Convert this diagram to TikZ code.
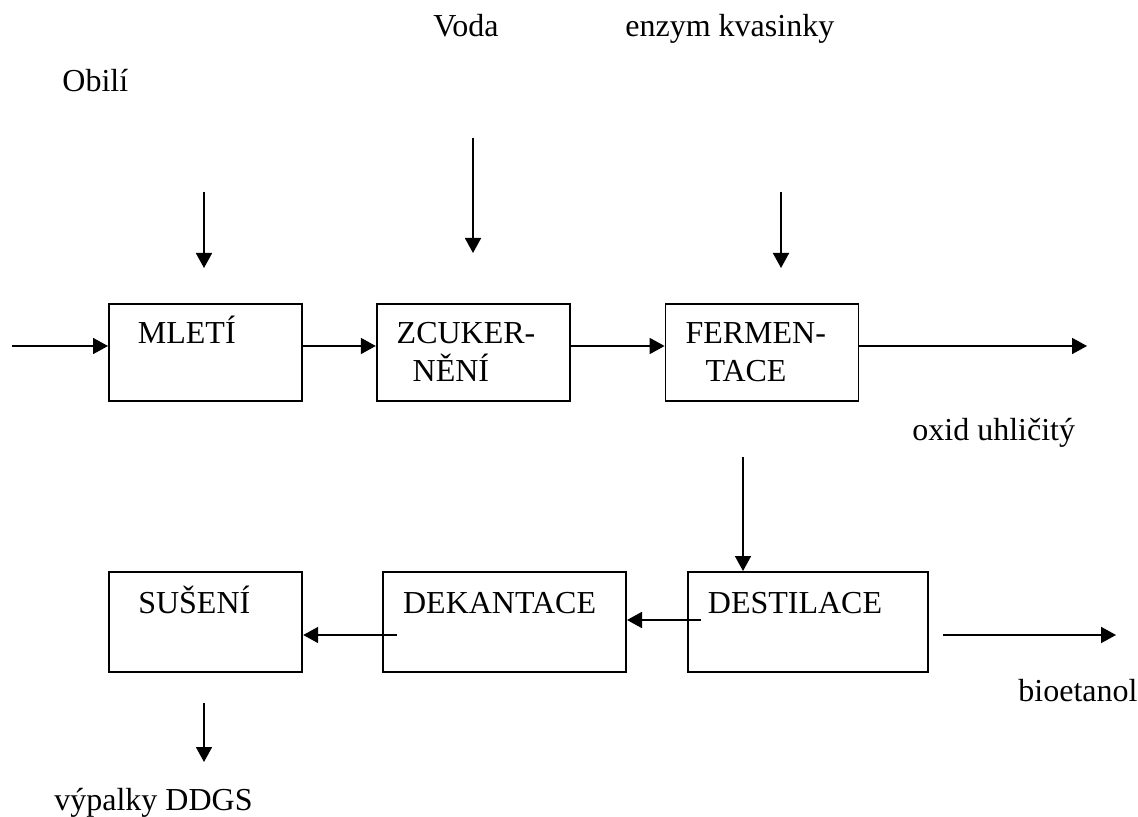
\documentclass[tikz,border=0pt]{standalone}
\usepackage{fontspec}
\setmainfont{Liberation Serif}
\usetikzlibrary{arrows.meta,positioning}
\tikzset{
	flow/.style={-{Triangle[length=7.5pt,width=8pt]}, line width=0.9pt}, % filled heads as in the scheme
	tag/.style={inner sep=0pt, anchor=base west, font=\fontsize{16pt}{19pt}\selectfont}
}

\begin{document}
\begin{tikzpicture}[x=0.5pt,y=-0.5pt]
	\tikzset{stage/.style = {draw, line width=0.9pt, anchor=north west, align=left, inner xsep=10pt, inner ysep=0pt, text width=76.5pt, minimum height=48.5pt, text height=20pt, text depth=28.5pt, font=\fontsize{16pt}{19pt}\selectfont}}
	\tikzset{low/.style = {minimum height=50pt, text height=21pt, text depth=29pt}}
	\useasboundingbox (0,0) rectangle (1138,817);
	% upper row
	\node[stage] (mlet) at (108,303) {\hspace*{4.5pt}MLETÍ};
	\node[stage] (zcuk) [right=36.5pt of mlet] {ZCUKER-\\\hspace*{8pt}NĚNÍ};
	\node[stage] (ferm) [right=47pt of zcuk] {FERMEN-\\\hspace*{10pt}TACE};
	% lower row
	\node[stage, low, text width=100pt] (dest) at (687,571) {DESTILACE};
	\node[stage, low, text width=101.5pt] (dek) [left=30pt of dest] {DEKANTACE};
	\node[stage, low] (sus) [left=39.5pt of dek] {\hspace*{4.5pt}SUŠENÍ};
	% inputs and products
	\node[tag] (obili) at (62,92) {Obilí};
	\node[tag] (voda) at (433,37) {Voda};
	\node[tag] (enzym) at (625,37) {enzym kvasinky};
	\node[tag] (oxid) at (912,440) {oxid uhličitý};
	\node[tag] (bioet) at (1018,701) {bioetanol};
	\node[tag, anchor=base east] (ddgs) at (253,810) {výpalky DDGS};
	% free ends
	\coordinate (feed) at (12,346);
	\coordinate (co2) at (1087,346);
	\coordinate (fd) at (743,457);
	\coordinate (dd) at (701,620);
	\coordinate (ds) at (397,635);
	\coordinate (etA) at (943,635);
	\coordinate (etB) at (1116,635);
	\draw[flow] (204,192) -- (204,268);
	\draw[flow] (473,138) -- (473,253);
	\draw[flow] (781,192) -- (781,268);
	\draw[flow] (feed) -- (feed -| mlet.west);
	\draw[flow] (feed -| mlet.east) -- (feed -| zcuk.west);
	\draw[flow] (feed -| zcuk.east) -- (feed -| ferm.west);
	\draw[flow] (feed -| ferm.east) -- (co2);
	\draw[flow] (fd) -- (fd |- dest.north);
	\draw[flow] (dd) -- (dd -| dek.east);
	\draw[flow] (ds) -- (ds -| sus.east);
	\draw[flow] (etA) -- (etB);
	\draw[flow] (204,703) -- (204,762);
\end{tikzpicture}
\end{document}
